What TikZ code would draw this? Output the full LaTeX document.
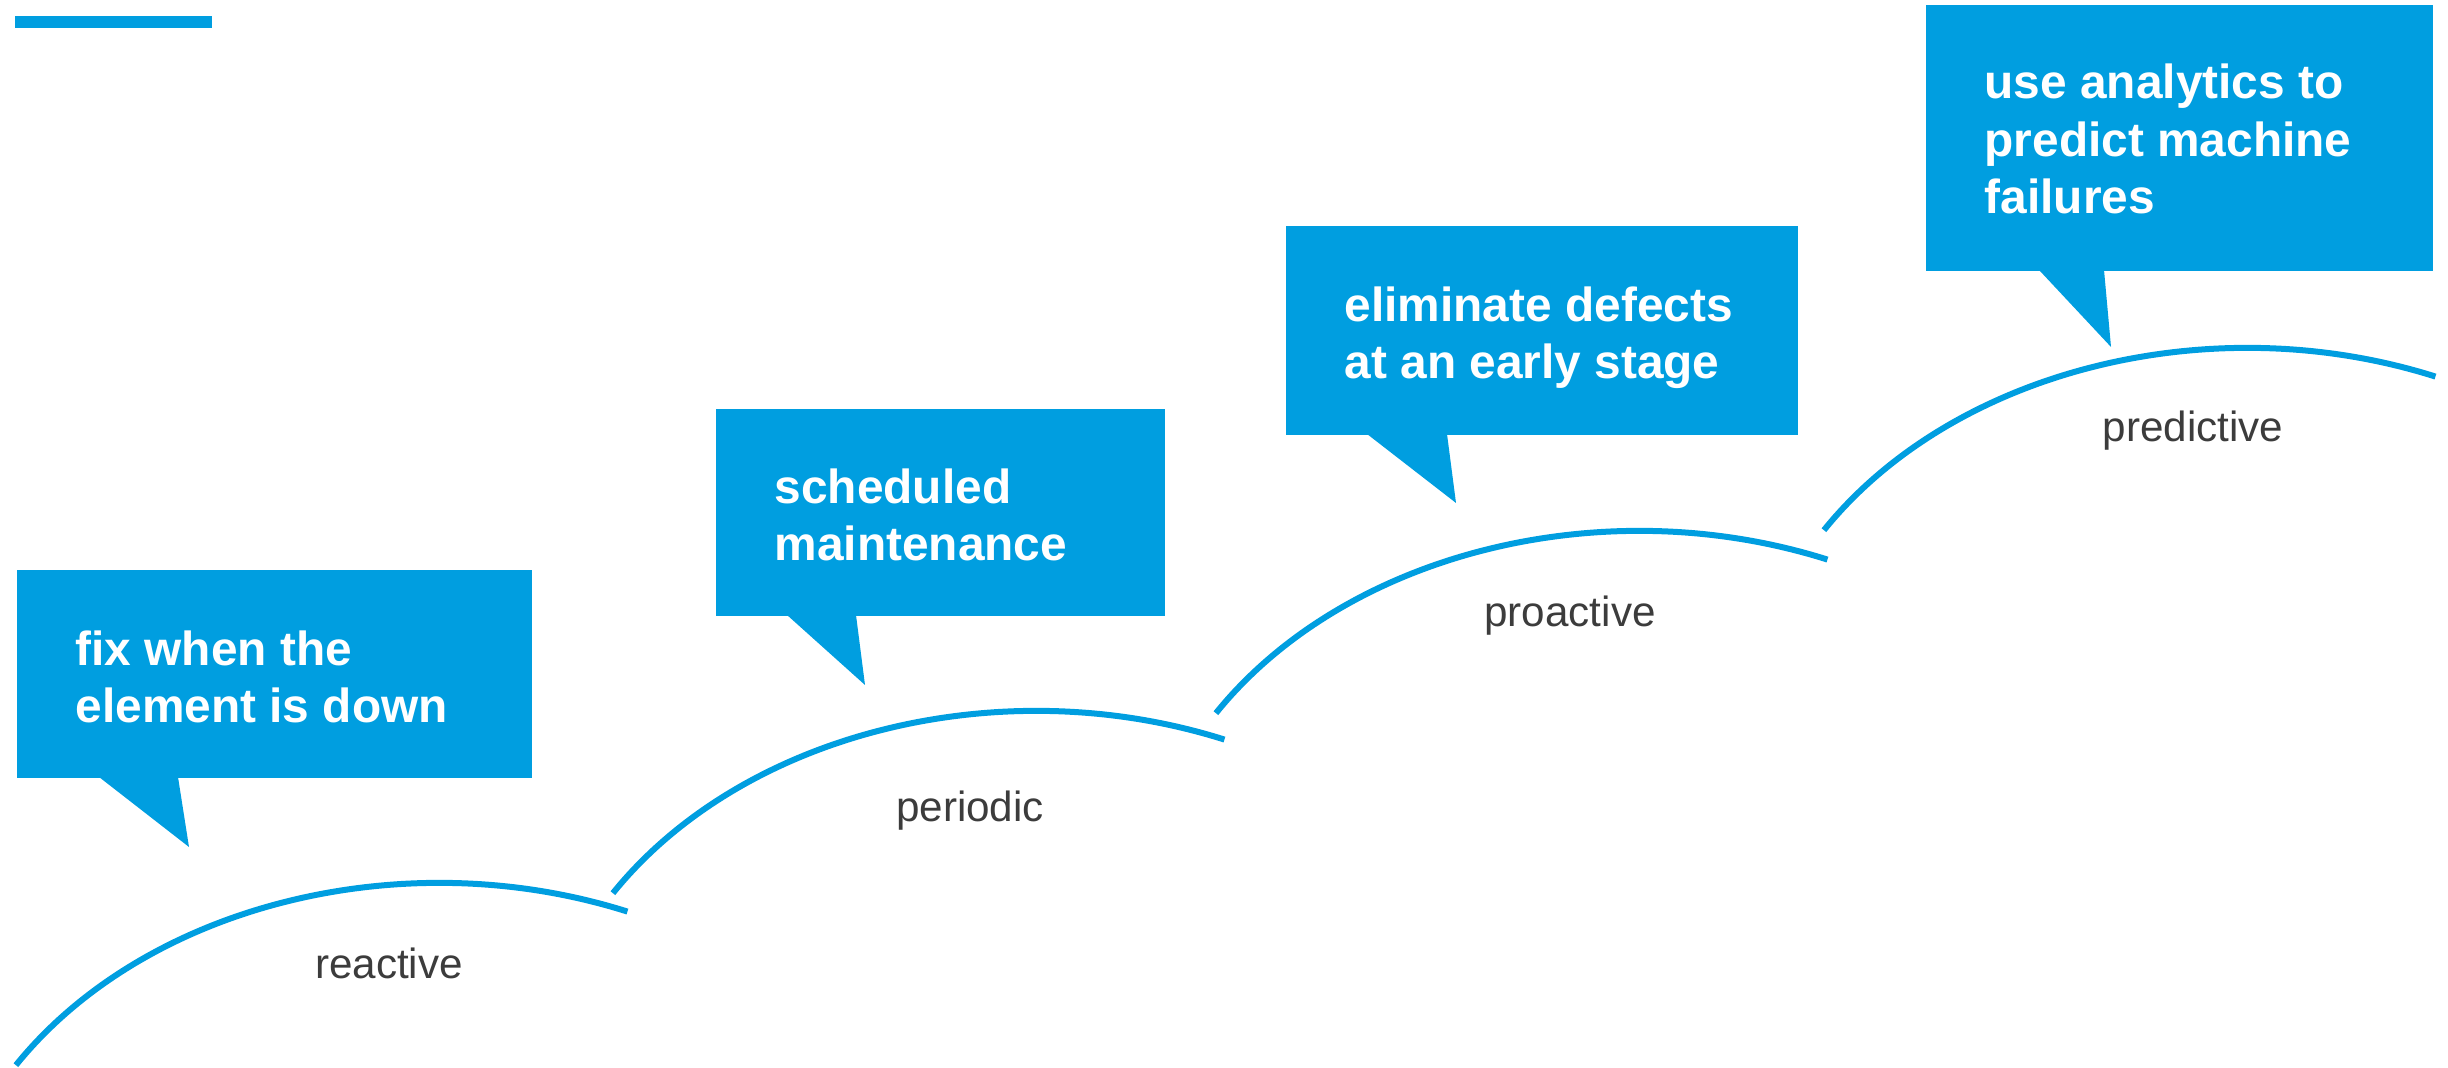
\documentclass[tikz,border=0pt]{standalone}
\usepackage{fontspec}
\setmainfont{Liberation Sans}
\definecolor{brandblue}{RGB}{0,158,224}
\definecolor{labelgray}{RGB}{60,60,60}
\begin{document}
\begin{tikzpicture}[x=0.01cm,y=0.01cm,
  bubble/.style={fill=brandblue},
  bubbletext/.style={anchor=base west, align=left, inner sep=0pt, text=white,
    font=\fontsize{13.6}{16.4}\selectfont\bfseries},
  stage/.style={draw=brandblue, line width=0.06cm},
  stagelabel/.style={anchor=base, inner sep=0pt, text=labelgray,
    font=\fontsize{12}{14}\selectfont}]
\useasboundingbox (0,0) rectangle (2448,1068);
\clip (0,0) rectangle (2448,1068);

% accent bar
\fill[brandblue] (15,1040) rectangle (212,1052);

% tops of the four stage arcs
\coordinate (t1) at (439,185);
\coordinate (t2) at (1036,357);
\coordinate (t3) at (1639,537);
\coordinate (t4) at (2247,720);

\foreach \t in {t1,t2,t3,t4}{
  \draw[stage] (\t) ++(-423.1,-182.2)
    arc[start angle=147.8, end angle=67.9, x radius=5cm, y radius=3.9cm];
}

% stage labels
\node[stagelabel] (l1) at (389,89) {reactive};
\node[stagelabel] (l2) at (970,246) {periodic};
\node[stagelabel] (l3) at (1570,441) {proactive};
\node[stagelabel] (l4) at (2193,626) {predictive};

% speech bubbles (text anchored at the baseline of the last line)
\fill[bubble] (17,290) rectangle (532,498);
\fill[bubble] (99,291) -- (189,221) -- (178,291) -- cycle;
\node[bubbletext] (b1) at (75,345) {fix when the\\element is down};

\fill[bubble] (716,452) rectangle (1165,659);
\fill[bubble] (787,453) -- (865,383) -- (856,453) -- cycle;
\node[bubbletext] (b2) at (774,507) {scheduled\\maintenance};

\fill[bubble] (1286,633) rectangle (1798,842);
\fill[bubble] (1367,634) -- (1456,565) -- (1447,634) -- cycle;
\node[bubbletext] (b3) at (1344,689) {eliminate defects\\at an early stage};

\fill[bubble] (1926,797) rectangle (2433,1063);
\fill[bubble] (2039,798) -- (2111,721) -- (2104,798) -- cycle;
\node[bubbletext] (b4) at (1984,854) {use analytics to\\predict machine\\failures};
\end{tikzpicture}
\end{document}
